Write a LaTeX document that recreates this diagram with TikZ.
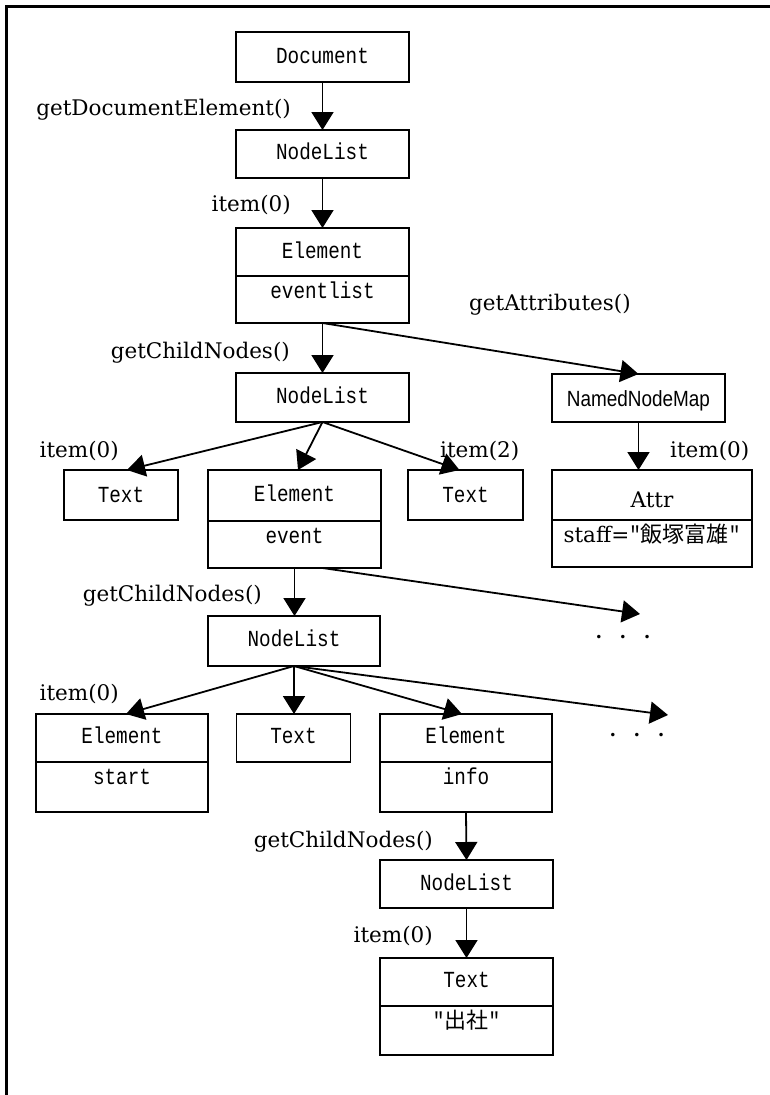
\documentclass[tikz,border=0pt]{standalone}
\usepackage{fontspec}
\usetikzlibrary{arrows.meta,calc}
\newfontfamily\monofnt{Liberation Mono}[FakeStretch=0.84]
\newfontfamily\sansfnt{Liberation Sans}[FakeStretch=0.86]
\newfontfamily\seriffnt{DejaVu Serif}
\newfontfamily\dotfnt{DejaVu Sans}
\newfontfamily\cjkfnt{Noto Sans CJK JP}
\newcommand\serifbig{\seriffnt\fontsize{21.5}{26}\selectfont}
\newcommand\monobig{\monofnt\fontsize{23}{26}\selectfont}
\newcommand\threedots{•\hspace{17pt}•\hspace{17pt}•}
\tikzset{
  box/.style={draw, line width=1.8pt, inner sep=0pt, outer sep=0pt, anchor=north,
    font=\monobig},
  wd/.style={minimum width=#1pt},
  th/.style={text height=#1pt},
  td/.style={text depth=#1pt},
  arr/.style={line width=1.8pt, -{Triangle[length=18pt,width=22pt]}},
  lbl/.style={inner sep=0pt, font=\serifbig},
  more/.style={inner sep=0pt, anchor=base, font=\dotfnt\fontsize{12}{14}\selectfont}
}
\begin{document}
\begin{tikzpicture}[x=1pt,y=-1pt]
\useasboundingbox (0,0) rectangle (770,1095);
% page frame (left and top edges)
\draw[line width=3pt] (6.5,1100) -- (6.5,6.5) -- (780,6.5);

% boxes
\node[box, wd=173, th=31, td=19] (doc) at (322.5,32) {Document};
\node[box, wd=173, th=29, td=19] (nl1) at (322.5,130) {NodeList};
\node[box, wd=173, th=30, td=18] (el1) at (322.5,228) {Element};
\node[box, wd=173, th=22, td=25] (el1s) at (el1.south) {eventlist};
\node[box, wd=173, th=30, td=19] (nl2) at (322.5,373) {NodeList};
\node[box, wd=173, th=32, td=16, font=\sansfnt\fontsize{22}{26}\selectfont] (nnm) at (638.5,374) {NamedNodeMap};
\node[box, wd=114, th=32, td=18] (t1) at (121,470) {Text};
\node[box, wd=173, th=31, td=20] (el2) at (294.5,470) {Element};
\node[box, wd=173, th=22, td=25] (el2s) at (el2.south) {event};
\node[box, wd=115, th=32, td=18] (t3) at (465.5,470) {Text};
\node[box, wd=200, th=37, td=13, font=\serifbig] (attr) at (652,470) {Attr};
\node[box, wd=200, th=22, td=25, font=\serifbig] (attrs) at (attr.south)
  {staff={\monobig"}{\cjkfnt\fontsize{22}{26}\selectfont 飯塚富雄}{\monobig"}};
\node[box, wd=172, th=30, td=20] (nl3) at (294,616) {NodeList};
\node[box, wd=172, th=29, td=19] (el3) at (122,714) {Element};
\node[box, wd=172, th=22, td=28] (el3s) at (el3.south) {start};
\node[box, wd=114, th=29, td=19] (t4) at (293.5,714) {Text};
\node[box, wd=172, th=29, td=19] (el4) at (466,714) {Element};
\node[box, wd=172, th=22, td=28] (el4s) at (el4.south) {info};
\node[box, wd=173, th=30, td=18] (nl4) at (466.5,860) {NodeList};
\node[box, wd=173, th=29, td=19] (t5) at (466.5,958) {Text};
\node[box, wd=173, th=22, td=27] (t5s) at (t5.south) {"{\cjkfnt\fontsize{22}{26}\selectfont 出社}"};

% continuation marks
\node[more] (dots1) at (623,641.4) {\threedots};
\node[more] (dots2) at (637,739.4) {\threedots};
\coordinate (more1) at (640,614);
\coordinate (more2) at (668,715);

% connectors
\draw[arr] (doc.south) -- (nl1.north);
\draw[arr] (nl1.south) -- (el1.north);
\draw[arr] (el1s.south) -- (nl2.north);
\draw[arr] (el1s.south) -- (nnm.north);
\draw[arr] (nnm.south) -- (nnm.south |- attr.north);
\draw[arr] (nl2.south) -- ($(t1.north)+(6,0)$);
\draw[arr] (nl2.south) -- ($(el2.north)+(3.5,0)$);
\draw[arr] (nl2.south) -- ($(t3.north)+(-6,0)$);
\draw[arr] (el2s.south) -- (el2s.south |- nl3.north);
\draw[arr] ($(el2s.south)+(28,0)$) -- (more1);
\draw[arr] (nl3.south) -- ($(el3.north)+(4,0)$);
\draw[arr] (nl3.south) -- (nl3.south |- t4.north);
\draw[arr] (nl3.south) -- ($(el4.north)+(-4,0)$);
\draw[arr] (nl3.south) -- (more2);
\draw[arr] (el4s.south) -- (nl4.north);
\draw[arr] (nl4.south) -- (t5.north);

% method labels
\node[lbl, anchor=base east] (lb1) at (291,115) {getDocumentElement()};
\node[lbl, anchor=base east] (lb2) at (291,211) {item(0)};
\node[lbl, anchor=base east] (lb3) at (290,358) {getChildNodes()};
\node[lbl, anchor=base west] (lb4) at (469,310) {getAttributes()};
\node[lbl, anchor=base east] (lb5) at (119,457) {item(0)};
\node[lbl, anchor=base west] (lb6) at (440,457) {item(2)};
\node[lbl, anchor=base west] (lb7) at (670,457) {item(0)};
\node[lbl, anchor=base east] (lb8) at (262,601) {getChildNodes()};
\node[lbl, anchor=base east] (lb9) at (119,700) {item(0)};
\node[lbl, anchor=base east] (lb10) at (433,847) {getChildNodes()};
\node[lbl, anchor=base east] (lb11) at (433,942) {item(0)};
\end{tikzpicture}
\end{document}
